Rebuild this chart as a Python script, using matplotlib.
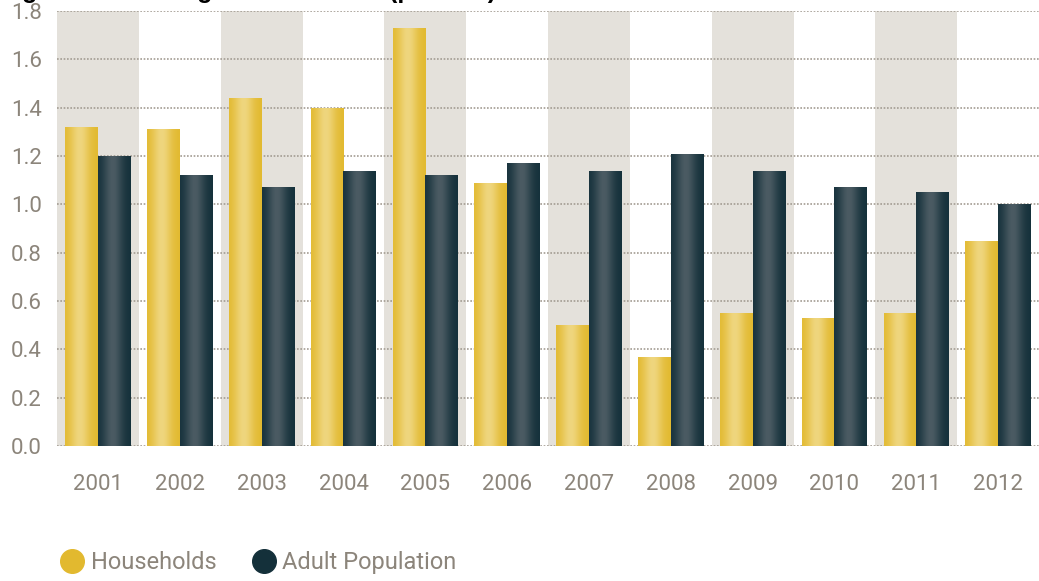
import numpy as np
import matplotlib.pyplot as plt
from matplotlib.colors import LinearSegmentedColormap
from matplotlib.lines import Line2D

# values (percent)
years = ['2001', '2002', '2003', '2004', '2005', '2006',
         '2007', '2008', '2009', '2010', '2011', '2012']
households = [1.32, 1.31, 1.44, 1.40, 1.73, 1.09, 0.50, 0.37, 0.55, 0.53, 0.55, 0.85]
adult_pop = [1.20, 1.12, 1.07, 1.14, 1.12, 1.17, 1.14, 1.21, 1.14, 1.07, 1.05, 1.00]
yticks = [0.0, 0.2, 0.4, 0.6, 0.8, 1.0, 1.2, 1.4, 1.6, 1.8]

txt_color = '#8c857b'
grid_color = '#a39c92'
band_color = '#e4e1db'
yellow = '#e2b92f'
dark = '#14303a'

plt.rcParams['font.family'] = ['Roboto', 'DejaVu Sans']

fig = plt.figure(figsize=(10.39, 5.81), dpi=100)
ax = fig.add_axes([0.0549, 0.2324, 0.9451, 0.7486])

x = np.arange(len(years))
w = 0.4

# alternating background bands
for i in x[::2]:
    ax.axvspan(i - 0.5, i + 0.5, color=band_color, zorder=0, lw=0)

for v in yticks:
    ax.axhline(v, color=grid_color, lw=1.2, ls=(0, (1, 1)), zorder=1)

bars_h = ax.bar(x - w / 2, households, w, color=yellow, zorder=2, lw=0)
bars_a = ax.bar(x + w / 2, adult_pop, w, color=dark, zorder=2, lw=0)

# cylinder-like shading on the bars
prof = np.linspace(0, 1, 64)
prof = np.exp(-((prof - 0.45) / 0.3) ** 2)[None, :]
cm_y = LinearSegmentedColormap.from_list('y', [yellow, '#efd67e'])
cm_d = LinearSegmentedColormap.from_list('d', [dark, '#4b5b63'])
for bars, cm in [(bars_h, cm_y), (bars_a, cm_d)]:
    for b in bars:
        x0, h, bw = b.get_x(), b.get_height(), b.get_width()
        im = ax.imshow(prof, cmap=cm, extent=(x0, x0 + bw, 0, h),
                       aspect='auto', zorder=3, vmin=0, vmax=1)
        im.set_clip_path(b)

ax.set_xlim(-0.5, len(years) - 0.5)
ax.set_ylim(0, 1.8)
ax.set_xticks(x)
ax.set_xticklabels(years)
ax.set_yticks(yticks)
ax.set_yticklabels([f'{v:.1f}' for v in yticks])
ax.tick_params(length=0, labelsize=16, colors=txt_color)
ax.tick_params(axis='x', pad=20)
ax.tick_params(axis='y', pad=11)
for s in ax.spines.values():
    s.set_visible(False)

handles = [Line2D([], [], ls='', marker='o', ms=17, color=yellow),
           Line2D([], [], ls='', marker='o', ms=17, color=dark)]
leg = fig.legend(handles, ['Households', 'Adult Population'], loc='center left',
                 bbox_to_anchor=(0.035, 0.031), ncol=2, frameon=False,
                 fontsize=17, handletextpad=0.2, columnspacing=1.4,
                 handlelength=1.2)
for t in leg.get_texts():
    t.set_color(txt_color)

# title, cut off at the top edge in the original
fig.text(0.0, 1.0 + 2 / 581, 'Figure 3: Housing Growth Rates (percent)',
         fontsize=18, color='black', fontweight='bold', va='baseline',
         family=['Liberation Sans', 'DejaVu Sans'])

fig.savefig('out.png', dpi=100)
